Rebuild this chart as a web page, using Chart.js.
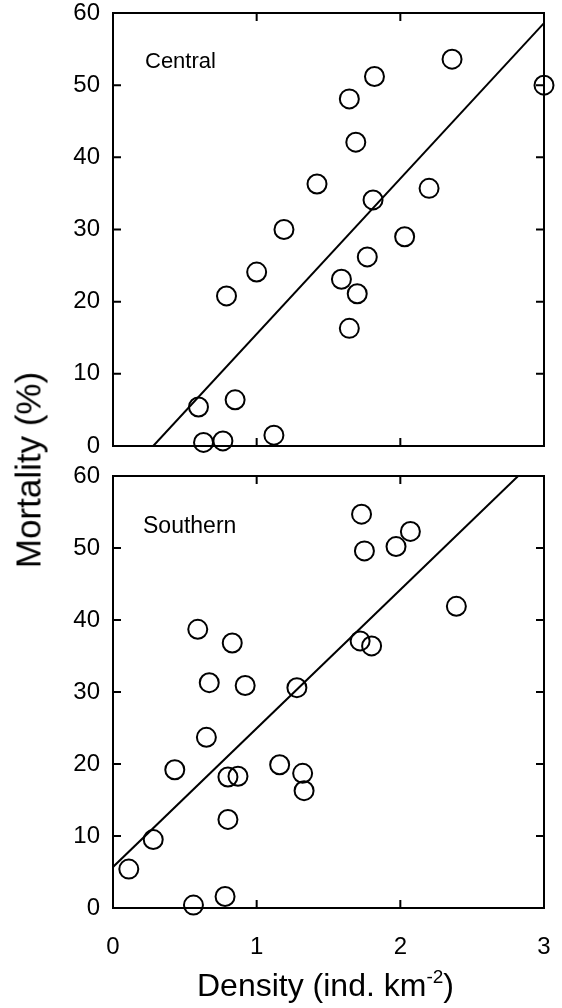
<!DOCTYPE html>
<html><head><meta charset="utf-8">
<script src="https://cdn.jsdelivr.net/npm/chart.js@4/dist/chart.umd.min.js"></script>
<style>
html,body{margin:0;padding:0;background:#fff;}
body{width:562px;height:1008px;position:relative;overflow:hidden;font-family:"Liberation Sans",Arial,Helvetica,sans-serif;color:#000;}
.wrap{position:absolute;left:0;width:562px;}
.lab{position:absolute;white-space:nowrap;line-height:1;}
</style></head><body>
<div class="wrap" style="top:0;height:460px"><canvas id="c1"></canvas></div>
<div class="wrap" style="top:460px;height:548px"><canvas id="c2"></canvas></div>
<div class="lab" style="left:145px;top:50px;font-size:22px;">Central</div>
<div class="lab" style="left:143px;top:514px;font-size:23px;">Southern</div>
<div class="lab" id="ytitle" style="left:28px;top:470px;font-size:35px;transform:translate(-50%,-50%) rotate(-90deg);">Mortality (%)</div>
<div class="lab" style="left:197px;top:969px;font-size:32px;">Density (ind. km<sup style="font-size:19px;vertical-align:13px;line-height:0">-2</sup>)</div>
<script>
const centralDensity   = [3.00, 2.36, 1.82, 1.645, 1.69, 1.42, 2.20, 1.81, 1.19, 2.03, 1.77, 1.00, 1.59, 1.70, 0.79, 1.645, 0.85, 0.595, 0.63, 0.765, 1.12];
const centralMortality = [50.0, 53.6, 51.2, 48.1, 42.1, 36.3, 35.7, 34.1, 30.0, 29.0, 26.2, 24.1, 23.1, 21.1, 20.8, 16.3, 6.4, 5.4, 0.5, 0.7, 1.5];
const southernDensity   = [1.73, 2.07, 1.75, 1.97, 2.39, 1.72, 1.80, 1.28, 0.59, 0.83, 0.67, 0.92, 0.65, 0.43, 0.80, 0.87, 0.80, 0.28, 0.11, 0.56, 0.78, 1.16, 1.32, 1.33];
const southernMortality = [54.7, 52.3, 49.6, 50.2, 41.9, 37.1, 36.4, 30.6, 38.7, 36.8, 31.3, 30.9, 23.7, 19.2, 18.2, 18.3, 12.3, 9.5, 5.4, 0.4, 1.6, 19.9, 18.7, 16.3];
const centralFitX = [0.28, 3.0];
const centralFitY = [0, 58.6];
const southernFitX = [0, 2.82];
const southernFitY = [5.7, 60];
const xTicks = [0, 1, 2, 3];
const yTicks = [0, 10, 20, 30, 40, 50, 60];

const FONT = '"Liberation Sans", Arial, Helvetica, sans-serif';

const framePlugin = {
  id: 'frame',
  afterDatasetsDraw(chart) {
    const {ctx, chartArea: a, scales: {x, y}} = chart;
    const tl = 8;
    ctx.save();
    ctx.strokeStyle = '#000';
    ctx.lineWidth = 2;
    ctx.strokeRect(a.left, a.top, a.right - a.left, a.bottom - a.top);
    ctx.beginPath();
    xTicks.slice(1, -1).forEach(v => {
      const px = x.getPixelForValue(v);
      ctx.moveTo(px, a.bottom); ctx.lineTo(px, a.bottom - tl);
      ctx.moveTo(px, a.top); ctx.lineTo(px, a.top + tl);
    });
    yTicks.slice(1, -1).forEach(v => {
      const py = y.getPixelForValue(v);
      ctx.moveTo(a.left, py); ctx.lineTo(a.left + tl, py);
      ctx.moveTo(a.right, py); ctx.lineTo(a.right - tl, py);
    });
    ctx.stroke();
    ctx.restore();
  }
};

function pts(xs, ys) { return xs.map((v, i) => ({x: v, y: ys[i]})); }
function noPad(s) { s.paddingTop = 0; s.paddingBottom = 0; s.paddingLeft = 0; s.paddingRight = 0; }

function makeChart(id, dx, dy, fx, fy, showX, xHeight, pad) {
  return new Chart(document.getElementById(id), {
    type: 'scatter',
    data: {
      datasets: [
        {
          data: pts(dx, dy),
          pointStyle: 'circle',
          pointRadius: 9.5,
          pointHoverRadius: 9.5,
          pointBorderWidth: 2,
          pointBackgroundColor: 'rgba(0,0,0,0)',
          pointBorderColor: '#000',
          showLine: false,
          clip: false,
          order: 1
        },
        {
          data: pts(fx, fy),
          showLine: true,
          borderColor: '#000',
          borderWidth: 2,
          pointRadius: 0,
          fill: false,
          order: 2
        }
      ]
    },
    options: {
      responsive: true,
      maintainAspectRatio: false,
      animation: false,
      events: [],
      layout: {padding: pad},
      plugins: {legend: {display: false}, tooltip: {enabled: false}},
      scales: {
        x: {
          type: 'linear', min: 0, max: 3,
          afterBuildTicks: s => { s.ticks = xTicks.map(v => ({value: v})); },
          afterFit: s => { s.height = xHeight; noPad(s); },
          grid: {display: false, drawTicks: false},
          border: {display: false},
          ticks: {display: showX, color: '#000', padding: 27, font: {family: FONT, size: 24, lineHeight: 1}}
        },
        y: {
          type: 'linear', min: 0, max: 60,
          afterBuildTicks: s => { s.ticks = yTicks.map(v => ({value: v})); },
          afterFit: s => { s.width = 113; noPad(s); },
          grid: {display: false, drawTicks: false},
          border: {display: false},
          ticks: {color: '#000', padding: 13, font: {family: FONT, size: 24, lineHeight: 1}}
        }
      }
    },
    plugins: [framePlugin]
  });
}

makeChart('c1', centralDensity, centralMortality, centralFitX, centralFitY, false, 14, {top: 13, right: 18, left: 0, bottom: 0});
makeChart('c2', southernDensity, southernMortality, southernFitX, southernFitY, true, 100, {top: 16, right: 18, left: 0, bottom: 0});
</script>
</body></html>
